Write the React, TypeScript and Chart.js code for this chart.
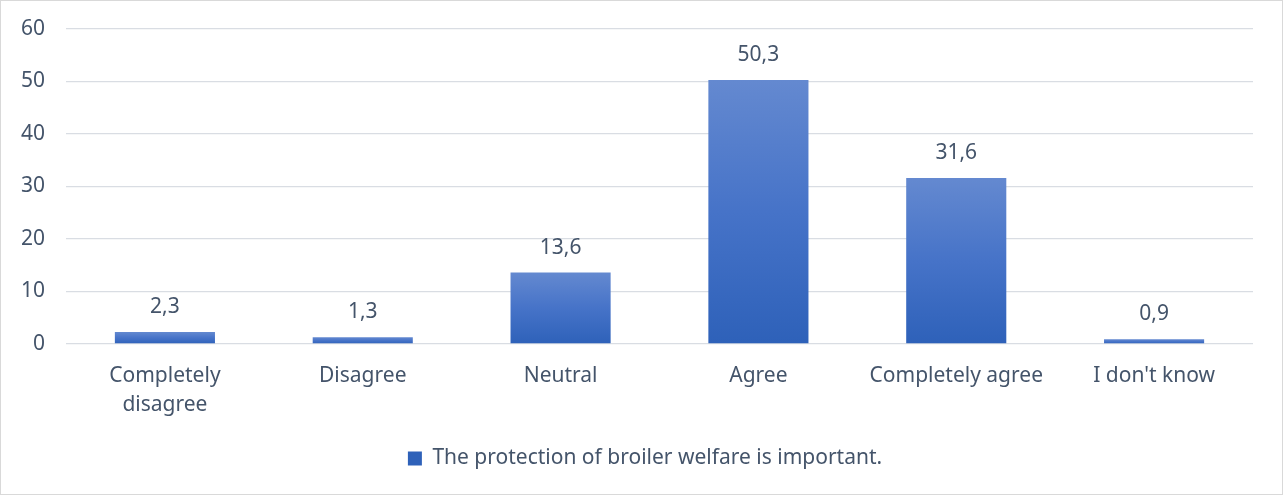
import React, { useEffect, useRef } from "react";
import { Chart, registerables } from "chart.js";

Chart.register(...registerables);

const categories: (string | string[])[] = [
  ["Completely", "disagree"],
  "Disagree",
  "Neutral",
  "Agree",
  "Completely agree",
  "I don't know",
];
const values: number[] = [2.3, 1.3, 13.6, 50.3, 31.6, 0.9];
const valueLabels: string[] = ["2,3", "1,3", "13,6", "50,3", "31,6", "0,9"];
const seriesName = "The protection of broiler welfare is important.";
const yMin = 0;
const yMax = 60;
const yStep = 10;

const TEXT = "#44546A";
const FONT = "'Noto Sans', sans-serif";
const FS = 21;

const dataLabelPlugin = {
  id: "dataLabels",
  afterDatasetsDraw(chart: any) {
    const ctx = chart.ctx;
    const meta = chart.getDatasetMeta(0);
    ctx.save();
    ctx.fillStyle = TEXT;
    ctx.font = `${FS}px ${FONT}`;
    ctx.textAlign = "center";
    ctx.textBaseline = "middle";
    meta.data.forEach((el: any, i: number) => {
      ctx.fillText(valueLabels[i], el.x, el.y - 25);
    });
    ctx.restore();
  },
};

const legendShiftPlugin = {
  id: "legendShift",
  afterLayout(chart: any) {
    const lg = chart.legend;
    if (lg) {
      lg.left += 18;
      lg.right += 18;
    }
  },
};

export default function App() {
  const ref = useRef<HTMLCanvasElement>(null);
  useEffect(() => {
    if (!ref.current) return;
    const chart = new Chart(ref.current, {
      type: "bar",
      data: {
        labels: categories,
        datasets: [
          {
            label: seriesName,
            data: values,
            backgroundColor: (c: any) => {
              const ch = c.chart;
              if (c.type !== "data" || !ch.chartArea || !ch.scales.y) return "#4672C6";
              const y = ch.scales.y;
              const top = y.getPixelForValue(c.parsed.y);
              const bottom = y.getPixelForValue(0);
              if (!isFinite(top) || !isFinite(bottom) || top === bottom) return "#4672C6";
              const g = ch.ctx.createLinearGradient(0, top, 0, bottom);
              g.addColorStop(0, "#6489D0");
              g.addColorStop(0.5, "#4673C8");
              g.addColorStop(1, "#2E61B9");
              return g;
            },
            borderWidth: 0,
            barPercentage: 1,
            categoryPercentage: 0.506,
          },
        ],
      },
      options: {
        responsive: false,
        animation: false,
        layout: { padding: { left: 0, right: 29, top: 28, bottom: 15 } },
        scales: {
          x: {
            grid: { display: false, drawTicks: false },
            border: { display: false },
            ticks: {
              color: TEXT,
              font: { family: FONT, size: FS, lineHeight: 1.4 },
              padding: 17,
              maxRotation: 0,
              autoSkip: false,
            },
            afterFit: (s: any) => {
              s.height = 94;
            },
          },
          y: {
            min: yMin,
            max: yMax,
            grid: { color: "#D9DDE3", lineWidth: 1.3, drawTicks: false },
            border: { display: false },
            ticks: {
              stepSize: yStep,
              color: TEXT,
              font: { family: FONT, size: FS },
              padding: 21,
            },
            afterFit: (s: any) => {
              s.width = 65;
              s.paddingTop = 4;
              s.paddingBottom = 4;
            },
          },
        },
        plugins: {
          legend: {
            position: "bottom",
            labels: {
              color: TEXT,
              font: { family: FONT, size: FS },
              boxWidth: 14,
              boxHeight: 14,
              padding: 10,
            },
          },
          tooltip: { enabled: false },
        },
      },
      plugins: [dataLabelPlugin, legendShiftPlugin],
    });
    return () => chart.destroy();
  }, []);
  return (
    <div
      style={{
        position: "fixed",
        left: 0,
        top: 0,
        width: 1283,
        height: 495,
        boxSizing: "border-box",
        border: "1px solid #D9D9D9",
        background: "#fff",
      }}
    >
      <canvas ref={ref} width={1281} height={493} style={{ display: "block" }} />
    </div>
  );
}
